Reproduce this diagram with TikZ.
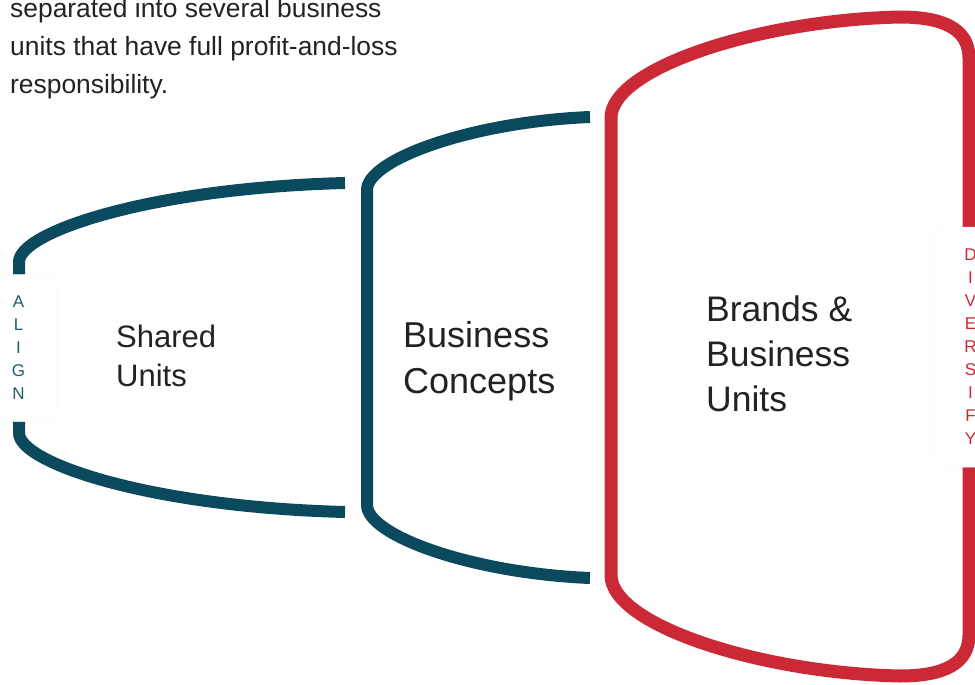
\documentclass[tikz,border=0pt]{standalone}
\usepackage{fontspec}
\setmainfont{Liberation Sans}
\definecolor{petrol}{HTML}{0B4A5E}
\definecolor{crimson}{HTML}{CC2936}
\definecolor{ink}{HTML}{222222}
\tikzstyle{rim}=[line width=12pt, petrol]
\tikzstyle{redrim}=[line width=13pt, crimson]
\tikzstyle{tag}=[draw=black!3, line width=0.5pt, fill=white, rounded corners=14pt, inner sep=0pt, align=center, font=\fontsize{17}{23}\selectfont]
\tikzstyle{title}=[anchor=north west, inner sep=0pt, align=left, text=ink]

\begin{document}
\begin{tikzpicture}[x=1pt, y=-1pt]
\useasboundingbox (0,0) rectangle (975,685);
% Shared units
    \draw[rim] (345,183) .. controls (150,188) and (19,232) .. (19,262) -- (19,433)
        .. controls (19,463) and (150,507) .. (345,512);
% Business concepts
    \draw[rim] (590,117) .. controls (470,122) and (367,160) .. (367,190) -- (367,505)
        .. controls (367,535) and (470,573) .. (590,578);
% Brands and business units
    \draw[redrim] (969,347) -- (969,58) .. controls (969,30) and (945,17) .. (900,17)
        .. controls (760,20) and (611,68) .. (611,118) -- (611,575)
        .. controls (611,625) and (760,673) .. (900,676)
        .. controls (945,676) and (969,663) .. (969,635) -- cycle;
% Side tags
    \node[tag, text=petrol!90!white, minimum width=78pt, minimum height=147pt] (align) at (18.5,348) {A\\L\\I\\G\\N};
    \node[tag, text=crimson, minimum width=74pt, minimum height=240pt] (diversify) at (970.5,347) {D\\I\\V\\E\\R\\S\\I\\F\\Y};
% Texts
    \node[title, font=\fontsize{26.4}{38}\selectfont] (intro) at (10,-2) {separated into several business\\units that have full profit-and-loss\\responsibility.};
    \node[title, font=\fontsize{31}{39}\selectfont] (shared) at (116,325) {Shared\\Units};
    \node[title, font=\fontsize{36}{46}\selectfont] (concepts) at (403,321) {Business\\Concepts};
    \node[title, font=\fontsize{35.5}{45}\selectfont] (brands) at (706,296) {Brands \&\\Business\\Units};
\end{tikzpicture}
\end{document}
